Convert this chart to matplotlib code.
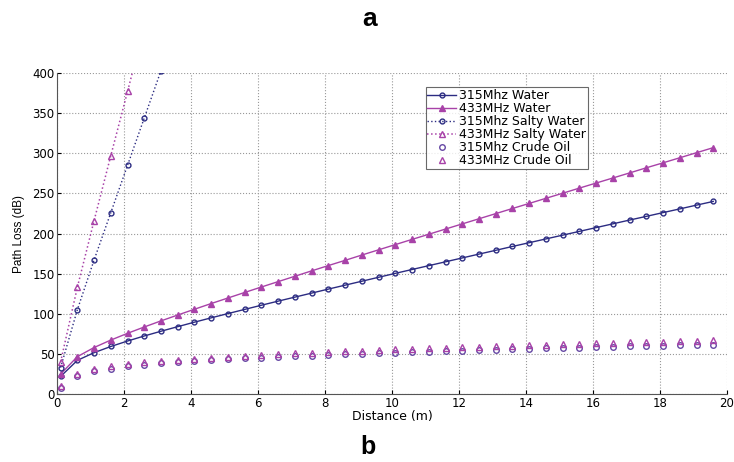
import matplotlib.pyplot as plt

plt.rcParams['font.family'] = ['DejaVu Sans']

# distance (m)
distance = [0.1, 0.6, 1.1, 1.6, 2.1, 2.6, 3.1, 3.6, 4.1, 4.6, 5.1, 5.6, 6.1, 6.6,
            7.1, 7.6, 8.1, 8.6, 9.1, 9.6, 10.1, 10.6, 11.1, 11.6, 12.1, 12.6, 13.1,
            13.6, 14.1, 14.6, 15.1, 15.6, 16.1, 16.6, 17.1, 17.6, 18.1, 18.6, 19.1, 19.6]
distance_salty = [0.1, 0.6, 1.1, 1.6, 2.1, 2.6, 3.1, 3.6]

water_315 = [22.0, 42.0, 51.6, 59.3, 66.1, 72.4, 78.3, 84.0, 89.6, 95.0, 100.3, 105.5,
             110.7, 115.8, 120.8, 125.8, 130.8, 135.7, 140.6, 145.5, 150.4, 155.2, 160.0,
             164.8, 169.6, 174.4, 179.1, 183.9, 188.6, 193.3, 198.0, 202.7, 207.4, 212.1,
             216.8, 221.4, 226.1, 230.7, 235.4, 240.0]
water_433 = [25.0, 46.6, 58.0, 67.3, 75.7, 83.6, 91.2, 98.5, 105.7, 112.8, 119.7, 126.6,
             133.4, 140.1, 146.8, 153.5, 160.1, 166.6, 173.2, 179.7, 186.2, 192.7, 199.1,
             205.6, 212.0, 218.4, 224.8, 231.2, 237.5, 243.9, 250.2, 256.6, 262.9, 269.2,
             275.5, 281.9, 288.1, 294.4, 300.7, 307.0]
salty_315 = [33, 105, 167, 226, 285, 344, 403, 462]
salty_433 = [40, 133, 216, 297, 377, 458, 538, 618]
crude_315 = [7.1, 22.8, 28.3, 31.8, 34.4, 36.5, 38.2, 39.8, 41.1, 42.3, 43.5, 44.5, 45.5,
             46.4, 47.2, 48.0, 48.8, 49.6, 50.3, 51.0, 51.6, 52.3, 52.9, 53.5, 54.1, 54.7,
             55.3, 55.8, 56.3, 56.9, 57.4, 57.9, 58.4, 58.9, 59.4, 59.8, 60.3, 60.8, 61.2, 61.7]
crude_433 = [9.6, 25.4, 31.0, 34.5, 37.2, 39.4, 41.2, 42.8, 44.2, 45.5, 46.7, 47.8, 48.9,
             49.9, 50.8, 51.7, 52.5, 53.4, 54.1, 54.9, 55.7, 56.4, 57.1, 57.8, 58.4, 59.1,
             59.7, 60.3, 60.9, 61.6, 62.1, 62.7, 63.3, 63.9, 64.4, 65.0, 65.5, 66.1, 66.6, 67.1]

blue = '#2c2c82'
mag = '#a842a8'
purple = '#6648a4'

fig = plt.figure(figsize=(7.34, 4.62), dpi=100)
ax = fig.add_axes([0.078, 0.147, 0.912, 0.695])

ax.plot(distance, water_315, '-o', color=blue, lw=1, ms=3.5, mfc='none', mew=1, label='315Mhz Water')
ax.plot(distance, water_433, '-^', color=mag, lw=1, ms=4, mfc=mag, mew=1, label='433MHz Water')
ax.plot(distance_salty, salty_315, ':o', color=blue, lw=1, ms=3.5, mfc='none', mew=1, label='315Mhz Salty Water')
ax.plot(distance_salty, salty_433, ':^', color=mag, lw=1.1, ms=4, mfc='none', mew=1, label='433MHz Salty Water')
ax.plot(distance, crude_315, 'o', color=purple, ms=4, mfc='none', mew=1, label='315Mhz Crude Oil')
ax.plot(distance, crude_433, '^', color=mag, ms=4, mfc='none', mew=1, label='433MHz Crude Oil')

ax.set_xlim(0, 20)
ax.set_ylim(0, 400)
ax.set_xticks(range(0, 21, 2))
ax.set_yticks(range(0, 401, 50))
ax.tick_params(direction='in', labelsize=8.5, length=3, pad=2)
ax.grid(True, linestyle=':', color='#999999', lw=0.8)
ax.spines['top'].set_visible(False)
ax.spines['right'].set_visible(False)
for s in ('left', 'bottom'):
    ax.spines[s].set_color('#555555')
ax.set_xlabel('Distance (m)', fontsize=9, labelpad=0)
ax.set_ylabel('Path Loss (dB)', fontsize=8.5, labelpad=5,
              family=['Liberation Sans Narrow', 'Liberation Sans'])

leg = ax.legend(loc='upper right', bbox_to_anchor=(0.793, 0.955), fontsize=9,
                frameon=True, fancybox=False, borderpad=0.15, labelspacing=0.0,
                handlelength=2.3, handletextpad=0.25, borderaxespad=0)
leg.get_frame().set_edgecolor('#444444')
leg.get_frame().set_linewidth(0.8)

fig.text(0.504, 0.958, 'a', ha='center', va='center', fontsize=19, fontweight='bold',
         family=['Liberation Sans Narrow', 'Liberation Sans'])
fig.text(0.501, 0.032, 'b', ha='center', va='center', fontsize=18, fontweight='bold',
         family=['Liberation Sans', 'DejaVu Sans'])

fig.savefig('out.png', dpi=100)
